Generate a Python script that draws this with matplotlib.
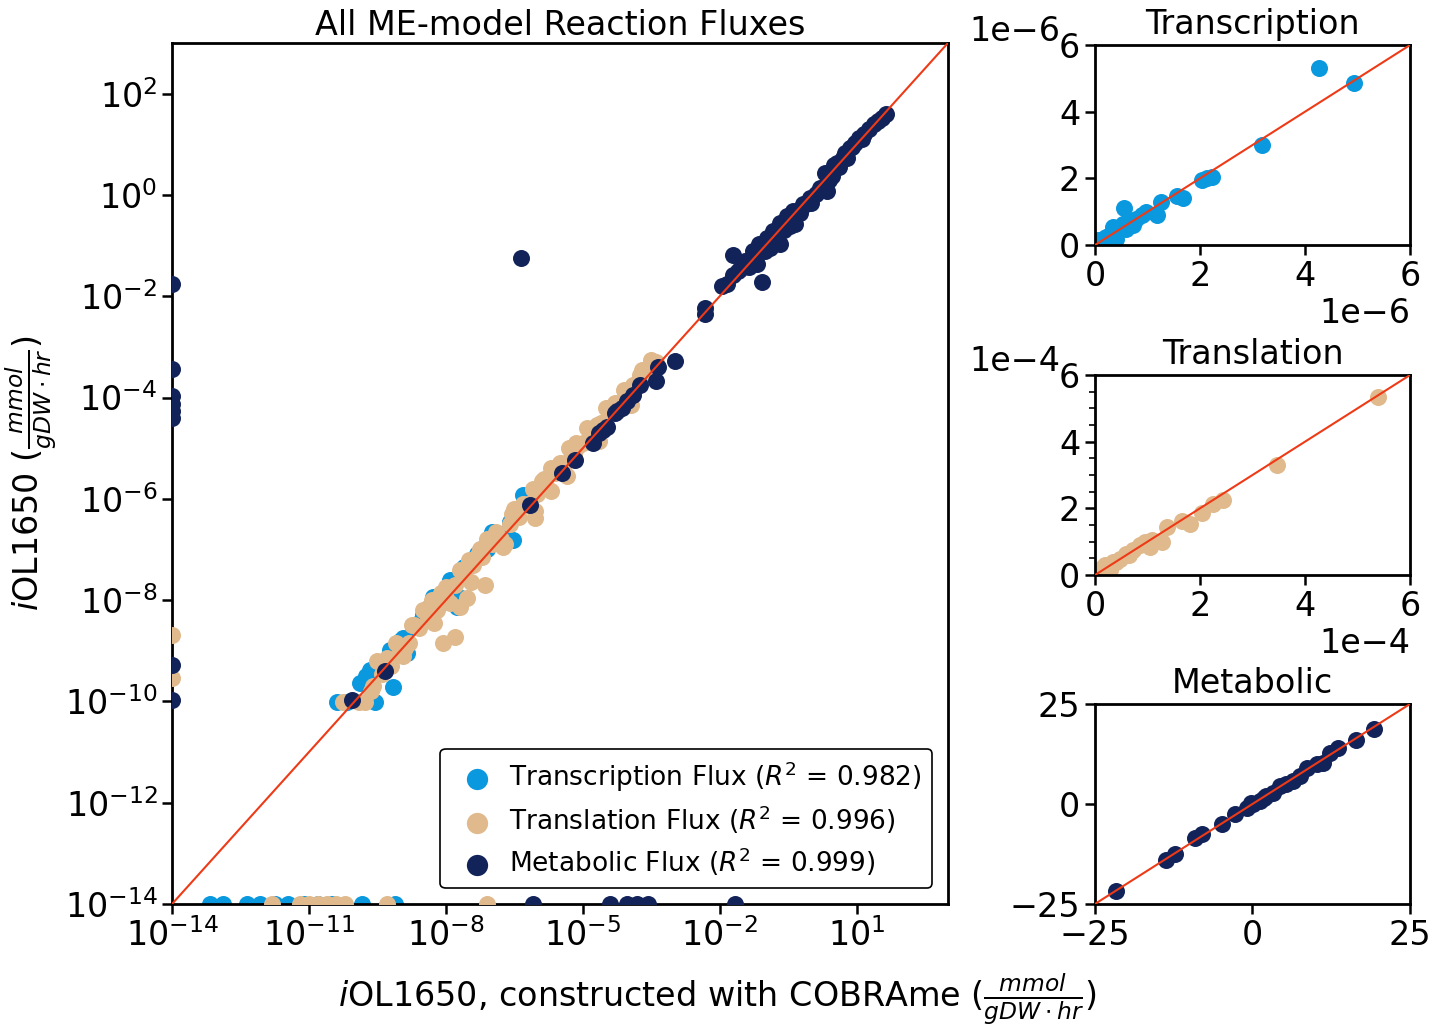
import numpy as np
import matplotlib
matplotlib.use("Agg")
import matplotlib.pyplot as plt
from matplotlib.ticker import AutoMinorLocator, NullLocator

# colours
c_tsc = "#0a98de"
c_tsl = "#e0b98c"
c_met = "#12235a"
c_line = "#ee3a16"

# ---- main panel (log10 of fluxes) ----
# transcription
tsc_x_log = [-13.17, -12.88, -12.36, -12.07, -11.75, -11.45, -11.1, -10.8, -10.5, -9.84, -9.12,
             -10.39, -10.17, -9.56, -9.16, -9.88, -9.66, -9.45, -9.23, -8.85, -8.72, -8.29,
             -7.98, -7.76, -7.67, -7.32, -6.99, -6.53, -6.31, -9.0, -8.5, -8.1, -7.5, -7.1, -6.8,
             -9.75, -9.35, -8.95, -8.6, -8.4, -7.9, -7.6, -7.2, -6.9, -6.6]
tsc_y_log = [-14, -14, -14, -14, -14, -14, -14, -14, -14, -14, -14,
             -10.02, -10.02, -10.02, -9.72, -9.64, -9.38, -9.25, -8.99, -9.05, -8.54, -7.94,
             -7.81, -8.14, -7.96, -7.08, -6.66, -6.82, -5.93, -8.8, -8.3, -8.05, -7.25, -7.0, -6.7,
             -9.5, -9.2, -8.75, -8.45, -8.15, -7.6, -7.35, -7.0, -6.7, -6.45]

# translation
tsl_x_log = [-14, -14, -11.81, -11.2, -11.0, -10.8, -10.6, -10.4, -10.2, -9.29, -7.10,
             -10.25, -9.9, -9.77, -9.6, -9.4, -9.2, -9.0, -8.8, -8.6, -8.4, -8.2, -8.0, -7.8,
             -7.6, -7.4, -7.2, -7.0, -6.8, -6.6, -6.4, -6.2, -6.0, -5.8, -5.6, -5.4, -5.2,
             -5.0, -4.8, -4.6, -4.4, -4.2, -4.0, -3.8, -3.6, -3.4,
             -8.07, -7.80, -7.69, -7.54, -7.15, -6.05, -9.3, -8.7, -8.1, -7.3, -6.9, -6.3,
             -5.9, -5.5, -5.1, -4.7, -4.3, -3.9, -8.9, -7.9, -6.7, -5.7,
             -9.5, -9.1, -8.5, -8.3, -7.7, -7.5, -7.1, -6.5, -6.1, -5.7, -5.3, -4.9, -4.5,
             -4.1, -3.7, -3.5, -9.65, -8.95, -8.25, -7.45, -6.75, -6.05, -5.35, -4.65, -3.95,
             -8.75, -8.0, -7.25, -6.55, -5.85, -5.15, -4.45, -3.75]
tsl_y_log = [-8.69, -9.54, -14, -14, -14, -14, -14, -14, -14, -14, -14,
             -10.02, -10.02, -10.02, -9.7, -9.45, -9.3, -9.0, -8.85, -8.55, -8.35, -8.2, -7.95, -7.7,
             -7.55, -7.3, -7.15, -6.9, -6.8, -6.5, -6.35, -6.1, -5.9, -5.75, -5.5, -5.3, -5.1,
             -4.9, -4.7, -4.5, -4.3, -4.1, -3.95, -3.7, -3.5, -3.3,
             -8.85, -8.73, -8.14, -7.96, -7.71, -6.37, -9.15, -8.5, -7.85, -7.1, -6.65, -6.1,
             -5.65, -5.3, -4.95, -4.55, -4.1, -3.75, -8.95, -8.05, -6.9, -5.85,
             -9.2, -8.85, -8.2, -8.0, -7.4, -7.2, -6.8, -6.2, -5.8, -5.4, -5.0, -4.6, -4.2,
             -3.85, -3.45, -3.25, -9.8, -9.1, -8.45, -7.65, -6.95, -6.25, -5.55, -4.85, -4.15,
             -8.5, -7.75, -7.0, -6.3, -5.6, -4.9, -4.2, -3.55]

# metabolic
met_x_log = [-14, -14, -14, -14, -14, -14, -14, -14,
             -6.1, -4.41, -4.04, -3.82, -3.58, -1.67, -6.36,
             1.65, 1.46, 1.28, 1.17, 1.06, 0.96, 0.85, 0.69, 0.56, 0.30, 0.47, 0.19, 0.34,
             -0.03, -0.18, -0.40, -0.53, -0.69, -0.36, -0.84, -0.69, -0.97, -1.13, -1.28,
             -1.72, -1.19, -1.45, -1.56, -1.72, -1.85, -1.08, -2.33, -1.94, -2.33,
             -2.99, -3.36, -3.40, -3.75, -4.04, -4.26, -4.30, -4.48, -4.56, -4.78, -5.18,
             -5.46, -6.16, -9.34, -10.06,
             1.55, 1.37, 1.12, 0.9, 0.78, 0.62, 0.4, 0.1, -0.1, -0.25, -0.6, -0.77, -0.9,
             -1.0, -1.35, -1.6, 0.75, 0.5, 0.0, -0.45, -3.9, -4.15, -4.65]
met_y_log = [-1.75, -3.43, -3.96, -4.12, -4.26, -4.41, -9.29, -9.98,
             -14, -14, -14, -14, -14, -14, -1.24,
             1.60, 1.46, 1.31, 1.21, 1.13, 1.03, 0.93, 0.73, 0.64, 0.44, 0.38, 0.14, 0.08,
             -0.06, -0.17, -0.31, -0.41, -0.55, -0.57, -0.71, -0.96, -0.84, -0.96, -1.10,
             -1.18, -1.36, -1.30, -1.46, -1.59, -1.75, -1.71, -2.24, -1.79, -2.36,
             -3.27, -3.39, -3.68, -3.76, -4.06, -4.26, -4.30, -4.59, -4.65, -4.89, -5.24,
             -5.50, -6.13, -9.40, -9.98,
             1.52, 1.4, 1.1, 0.95, 0.72, 0.55, 0.3, 0.02, -0.18, -0.35, -0.7, -0.86, -1.05,
             -1.1, -1.42, -1.5, 0.82, 0.6, -0.15, -0.62, -3.95, -4.2, -4.7]

# ---- small panels (linear) ----
tsc_x = [4.27, 4.93, 3.18, 2.04, 2.13, 2.23, 1.56, 1.68, 1.26, 1.18, 0.56, 0.98, 0.89, 0.79,
         0.73, 0.60, 0.54, 0.35, 0.29, 0.16, 0.06, 0.41, 0.67, 0.10, 0.22]
tsc_y = [5.30, 4.85, 3.01, 1.96, 2.00, 2.05, 1.48, 1.42, 1.29, 0.90, 1.11, 0.99, 0.89, 0.79,
         0.59, 0.49, 0.64, 0.54, 0.29, 0.19, 0.14, 0.19, 0.69, 0.05, 0.25]

tsl_x = [5.39, 3.46, 2.44, 2.25, 2.03, 1.81, 1.65, 1.38, 1.27, 1.05, 0.95, 0.86, 0.73, 0.60,
         0.48, 0.35, 0.19, 0.10, 0.29, 1.08, 0.40, 0.65]
tsl_y = [5.33, 3.31, 2.26, 2.14, 1.87, 1.54, 1.61, 1.45, 1.00, 0.84, 1.00, 0.90, 0.75, 0.64,
         0.49, 0.39, 0.29, 0.19, 0.14, 1.05, 0.38, 0.60]

met_x = [-21.7, -13.7, -12.3, -9.1, -8.0, -4.8, -2.8, -0.9, 0.1, 1.2, 2.2, 3.3, 4.4, 5.4,
         6.5, 7.5, 8.6, 10.2, 11.2, 12.3, 13.6, 16.5, 19.3, -0.3, 1.8]
met_y = [-21.7, -13.9, -12.6, -8.5, -7.6, -4.9, -2.4, -0.9, -0.1, 0.8, 2.0, 2.8, 4.5, 4.9,
         5.75, 7.0, 9.1, 9.9, 10.3, 12.8, 14.1, 15.9, 18.7, 0.2, 1.5]

labels = ["Transcription Flux ($R^2$ = 0.982)",
          "Translation Flux ($R^2$ = 0.996)",
          "Metabolic Flux ($R^2$ = 0.999)"]

plt.rcParams["font.family"] = "DejaVu Sans"
plt.rcParams["mathtext.fontset"] = "dejavusans"
fs = 24
ms = 150

fig = plt.figure(figsize=(14.47, 10.27), dpi=100)

ax = fig.add_axes([0.1189, 0.1198, 0.5362, 0.8383])
ax.scatter(10 ** np.array(tsc_x_log), 10 ** np.array(tsc_y_log), s=ms, color=c_tsc,
           label=labels[0], zorder=2, linewidths=0)
ax.scatter(10 ** np.array(tsl_x_log), 10 ** np.array(tsl_y_log), s=ms, color=c_tsl,
           label=labels[1], zorder=3, linewidths=0)
ax.scatter(10 ** np.array(met_x_log), 10 ** np.array(met_y_log), s=ms, color=c_met,
           label=labels[2], zorder=4, linewidths=0)
ax.plot([1e-14, 1e3], [1e-14, 1e3], color=c_line, lw=1.5, zorder=5)
ax.set_xscale("log")
ax.set_yscale("log")
ax.set_xlim(1e-14, 1e3)
ax.set_ylim(1e-14, 1e3)
ax.set_xticks([1e-14, 1e-11, 1e-8, 1e-5, 1e-2, 1e1])
ax.set_yticks([1e-14, 1e-12, 1e-10, 1e-8, 1e-6, 1e-4, 1e-2, 1e0, 1e2])
ax.xaxis.set_minor_locator(NullLocator())
ax.yaxis.set_minor_locator(NullLocator())
ax.set_title("All ME-model Reaction Fluxes", fontsize=fs, pad=6)
ax.set_ylabel(r"$i$OL1650 ($\frac{mmol}{gDW \cdot hr}$)", fontsize=fs, labelpad=4)
leg = ax.legend(loc="lower right", fontsize=19, frameon=True, handletextpad=0.2,
                borderpad=0.4, labelspacing=0.35, borderaxespad=0.6, framealpha=1,
                markerscale=1.25)
leg.get_frame().set_edgecolor("black")
leg.get_frame().set_linewidth(1.2)

fig.text(0.496, 0.0, r"$i$OL1650, constructed with COBRAme ($\frac{mmol}{gDW \cdot hr}$)",
         fontsize=fs, ha="center", va="bottom")

small = [
    ([0.7567, 0.7614, 0.2177, 0.1947], tsc_x, tsc_y, c_tsc, "Transcription", 1e-6, (0, 6e-6)),
    ([0.7567, 0.4401, 0.2177, 0.1947], tsl_x, tsl_y, c_tsl, "Translation", 1e-4, (0, 6e-4)),
    ([0.7567, 0.1198, 0.2177, 0.1947], met_x, met_y, c_met, "Metabolic", 1, (-25, 25)),
]
axes_small = []
for rect, xs, ys, col, title, scale, lim in small:
    a = fig.add_axes(rect)
    a.scatter(np.array(xs) * scale, np.array(ys) * scale, s=ms, color=col, linewidths=0, zorder=2)
    a.plot(lim, lim, color=c_line, lw=1.5, zorder=3)
    a.set_xlim(lim)
    a.set_ylim(lim)
    if scale != 1:
        a.set_xticks(np.array([0, 2, 4, 6]) * scale)
        a.set_yticks(np.array([0, 2, 4, 6]) * scale)
        a.ticklabel_format(style="sci", axis="both", scilimits=(0, 0))
        a.yaxis.get_offset_text().set_x(-0.11)
        a.yaxis.get_offset_text().set_horizontalalignment("right")
    else:
        a.set_xticks([-25, 0, 25])
        a.set_yticks([-25, 0, 25])
    a.set_title(title, fontsize=fs, pad=8, y=1.0)
    axes_small.append(a)

axes_small[1].yaxis.set_minor_locator(AutoMinorLocator(4))

for a in [ax] + axes_small:
    for sp in a.spines.values():
        sp.set_linewidth(2)
    a.tick_params(which="major", labelsize=fs, length=7, width=1.8, direction="out")
    a.tick_params(which="minor", length=4, width=1.2)
    a.xaxis.get_offset_text().set_fontsize(fs)
    a.yaxis.get_offset_text().set_fontsize(fs)

fig.savefig("out.png", dpi=100)
